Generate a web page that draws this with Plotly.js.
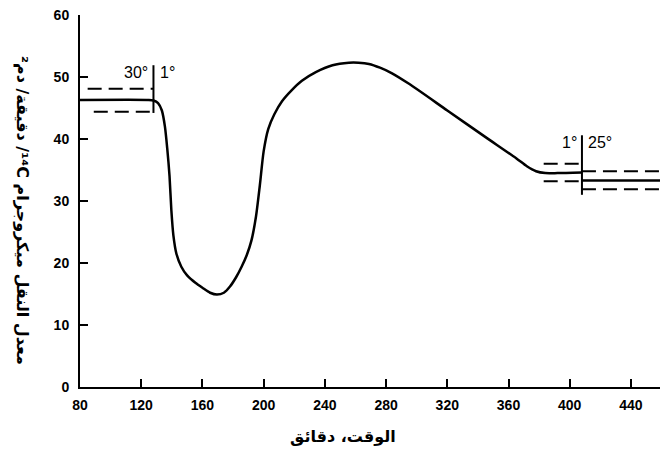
<!DOCTYPE html>
<html>
<head>
<meta charset="utf-8">
<script src="https://cdn.plot.ly/plotly-3.0.1.min.js"></script>
<style>html,body{margin:0;padding:0;background:#fff;}#chart{width:660px;height:457px;}</style>
</head>
<body>
<div id="chart"></div>
<script>
// Main translocation curve
const curveTime = [80, 125, 128, 131, 133.5, 135.5, 137, 138.5, 139.7, 141, 143, 146.2, 150, 155.4, 160, 165, 169.5, 174, 178, 182, 185.6, 189, 192, 195, 197.5, 200, 203, 207, 212, 218.4, 225, 234.1, 245, 255.7, 262, 268.8, 276, 283.9, 295, 320, 345, 365, 372, 378, 384, 392, 408];
const curveRate = [46.3, 46.3, 46.2, 45.8, 44.6, 42, 38.5, 34, 28.5, 24.5, 21.5, 19.4, 18, 16.8, 16, 15.2, 14.9, 15.2, 16.2, 17.7, 19.4, 21.3, 23.6, 27.5, 32.5, 38, 41.6, 44, 46.1, 47.9, 49.4, 50.8, 51.9, 52.3, 52.3, 52.1, 51.5, 50.6, 48.9, 44.6, 40.3, 36.9, 35.6, 34.8, 34.5, 34.5, 34.6];

// Left band (30°)
const leftUpperTime = [85, 128];
const leftUpperRate = [48.1, 48.1];
const leftLowerTime = [89, 128];
const leftLowerRate = [44.4, 44.4];

// Right band before switch (1°)
const rightPreUpperTime = [383, 408];
const rightPreUpperRate = [36, 36];
const rightPreLowerTime = [383, 408];
const rightPreLowerRate = [33.2, 33.2];

// Right band after switch (25°)
const rightPostTime = [408, 460];
const rightPostMean = [33.3, 33.3];
const rightPostUpper = [34.8, 34.8];
const rightPostLower = [31.9, 31.9];

// Temperature switch markers
const switchLeftTime = [128, 128];
const switchLeftRate = [44.2, 51.9];
const switchRightTime = [408, 408];
const switchRightRate = [31, 40.6];

const xTicks = [80, 120, 160, 200, 240, 280, 320, 360, 400, 440];
const yTicks = [0, 10, 20, 30, 40, 50, 60];

const solid = {color: '#000', width: 2.5};
const dashed = {color: '#000', width: 2, dash: '14px,7px'};
const thin = {color: '#000', width: 2};

const traces = [
  {x: curveTime, y: curveRate, mode: 'lines', line: Object.assign({shape: 'spline', smoothing: 0.7}, solid)},
  {x: leftUpperTime, y: leftUpperRate, mode: 'lines', line: dashed},
  {x: leftLowerTime, y: leftLowerRate, mode: 'lines', line: dashed},
  {x: rightPreUpperTime, y: rightPreUpperRate, mode: 'lines', line: dashed},
  {x: rightPreLowerTime, y: rightPreLowerRate, mode: 'lines', line: dashed},
  {x: rightPostTime, y: rightPostMean, mode: 'lines', line: solid},
  {x: rightPostTime, y: rightPostUpper, mode: 'lines', line: dashed},
  {x: rightPostTime, y: rightPostLower, mode: 'lines', line: dashed},
  {x: switchLeftTime, y: switchLeftRate, mode: 'lines', line: thin},
  {x: switchRightTime, y: switchRightRate, mode: 'lines', line: thin}
];

const tickFont = {family: 'Liberation Sans, Arial, sans-serif', size: 14, color: '#000', weight: 'bold'};
const labelFont = {family: 'Liberation Sans, Arial, sans-serif', size: 16, color: '#000'};
const arFont = {family: 'DejaVu Sans, sans-serif', size: 16, color: '#000', weight: 'bold'};

const yTitle = '\u202B' + 'معدل النقل ميكروجرام ¹⁴C/ دقيقة/ دم²' + '\u202C';
const xTitle = '\u202B' + 'الوقت، دقائق' + '\u202C';

const layout = {
  width: 660, height: 457,
  margin: {l: 80, r: 0, t: 15, b: 70},
  paper_bgcolor: '#fff', plot_bgcolor: '#fff',
  showlegend: false,
  xaxis: {
    range: [80, 459], tickvals: xTicks, ticktext: xTicks.map(String),
    showgrid: false, zeroline: false, showline: true, linecolor: '#000', linewidth: 2,
    ticks: 'inside', ticklen: 8, tickwidth: 2, tickcolor: '#000',
    tickfont: tickFont, ticklabelstandoff: 4
  },
  yaxis: {
    range: [0, 60], tickvals: yTicks, ticktext: yTicks.map(String),
    showgrid: false, zeroline: false, showline: true, linecolor: '#000', linewidth: 2,
    ticks: 'inside', ticklen: 8, tickwidth: 2, tickcolor: '#000',
    tickfont: tickFont, ticklabelstandoff: 6
  },
  annotations: [
    {x: 128, y: 50.8, xref: 'x', yref: 'y', text: '30°', showarrow: false, xanchor: 'right', xshift: -3, font: labelFont},
    {x: 128, y: 50.8, xref: 'x', yref: 'y', text: '1°', showarrow: false, xanchor: 'left', xshift: 5, font: labelFont},
    {x: 408, y: 39.4, xref: 'x', yref: 'y', text: '1°', showarrow: false, xanchor: 'right', xshift: -3, font: labelFont},
    {x: 408, y: 39.4, xref: 'x', yref: 'y', text: '25°', showarrow: false, xanchor: 'left', xshift: 4, font: labelFont},
    {x: 0.453, y: -0.134, xref: 'paper', yref: 'paper', text: xTitle, showarrow: false, xanchor: 'center', yanchor: 'middle', font: arFont},
    {x: -0.1, y: 0.476, xref: 'paper', yref: 'paper', text: yTitle, showarrow: false, textangle: 90, xanchor: 'center', yanchor: 'middle', font: arFont}
  ]
};

Plotly.newPlot('chart', traces, layout, {displayModeBar: false, staticPlot: true});
</script>
</body>
</html>
